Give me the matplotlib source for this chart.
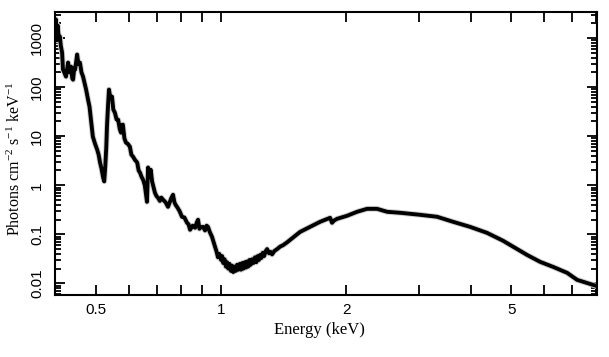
import matplotlib
matplotlib.use("Agg")
import matplotlib.pyplot as plt
from matplotlib.ticker import FixedLocator, NullFormatter

# spectrum (keV, photons cm^-2 s^-1 keV^-1)
energy = [0.398, 0.400, 0.402, 0.404, 0.406, 0.409, 0.411, 0.414, 0.416, 0.419,
          0.423, 0.426, 0.428, 0.431, 0.435, 0.438, 0.440, 0.443, 0.445, 0.448,
          0.450, 0.453, 0.457, 0.461, 0.465, 0.469, 0.473, 0.478, 0.482, 0.486,
          0.491, 0.497, 0.503, 0.507, 0.511, 0.515, 0.520, 0.523, 0.526, 0.529,
          0.531, 0.534, 0.537, 0.541, 0.546, 0.550, 0.555, 0.560, 0.565, 0.570,
          0.574, 0.577, 0.580, 0.585, 0.590, 0.596, 0.603, 0.608, 0.614, 0.620,
          0.628, 0.633, 0.638, 0.643, 0.649, 0.655, 0.660, 0.663, 0.667, 0.672,
          0.677, 0.682, 0.688, 0.693, 0.699, 0.705, 0.712, 0.718, 0.725, 0.735,
          0.745, 0.752, 0.759, 0.766, 0.772, 0.777, 0.783, 0.794, 0.805, 0.816,
          0.828, 0.835, 0.842, 0.854, 0.866, 0.873, 0.880, 0.887, 0.894, 0.905,
          0.915, 0.923, 0.930, 0.940, 0.951, 0.959, 0.967, 0.975, 0.983, 0.990,
          1.000, 1.006, 1.012, 1.020, 1.027, 1.034, 1.041, 1.048, 1.056, 1.063,
          1.070, 1.078, 1.085, 1.093, 1.101, 1.109, 1.117, 1.124, 1.132, 1.140,
          1.148, 1.155, 1.163, 1.171, 1.179, 1.188, 1.197, 1.207, 1.216, 1.225,
          1.234, 1.242, 1.251, 1.260, 1.270, 1.280, 1.291, 1.305, 1.316, 1.327,
          1.345, 1.365, 1.387, 1.410, 1.440, 1.467, 1.550, 1.639, 1.732, 1.831,
          1.851, 1.870, 1.903, 2.012, 2.127, 2.248, 2.376, 2.512, 2.700, 2.854,
          3.017, 3.315, 3.623, 3.981, 4.375, 4.780, 5.053, 5.462, 5.871, 6.310,
          6.821, 7.210, 7.620, 7.878, 8.05]
flux = [1500, 2400, 900, 1800, 1100, 1070, 700, 506, 230, 200,
        164, 240, 316, 200, 262, 150, 142, 250, 228, 350,
        461, 300, 316, 200, 164, 120, 89, 56, 40, 21.7,
        9.8, 7.0, 5.3, 4.2, 2.9, 2.2, 1.42, 1.2, 2.4, 6.0,
        15.6, 40, 89, 60, 64, 35, 30, 22, 21.7, 14,
        11.8, 17, 17.2, 9.0, 7.4, 7.0, 6.1, 4.2, 3.8, 3.3,
        2.9, 2.0, 1.8, 1.5, 1.29, 1.0, 0.6, 0.46, 2.3, 1.5,
        2.07, 1.2, 0.9, 0.70, 0.60, 0.556, 0.48, 0.56, 0.506, 0.45,
        0.364, 0.45, 0.55, 0.64, 0.45, 0.40, 0.364, 0.30, 0.228, 0.22,
        0.172, 0.16, 0.124, 0.15, 0.136, 0.17, 0.198, 0.13, 0.14, 0.142,
        0.12, 0.15, 0.142, 0.11, 0.089, 0.07, 0.056, 0.045, 0.034, 0.040,
        0.030, 0.036, 0.026, 0.031, 0.022, 0.027, 0.020, 0.025, 0.018, 0.023,
        0.017, 0.022, 0.018, 0.024, 0.019, 0.025, 0.019, 0.026, 0.020, 0.027,
        0.021, 0.028, 0.022, 0.030, 0.024, 0.031, 0.026, 0.034, 0.027, 0.036,
        0.030, 0.038, 0.033, 0.042, 0.036, 0.045, 0.050, 0.041, 0.044, 0.039,
        0.046, 0.050, 0.056, 0.060, 0.068, 0.077, 0.112, 0.142, 0.18, 0.217,
        0.172, 0.19, 0.207, 0.239, 0.288, 0.331, 0.331, 0.288, 0.275, 0.262,
        0.25, 0.228, 0.18, 0.142, 0.107, 0.074, 0.056, 0.038, 0.0275, 0.0217,
        0.0164, 0.0118, 0.0102, 0.0093, 0.0088]

x_major = [0.5, 1, 2, 5]
x_labels = ["0.5", "1", "2", "5"]
x_minor = [0.6, 0.7, 0.8, 0.9, 3, 4, 6, 7, 8]
y_major = [0.01, 0.1, 1, 10, 100, 1000]
y_labels = ["0.01", "0.1", "1", "10", "100", "1000"]

plt.rcParams['mathtext.fontset'] = 'custom'
plt.rcParams['mathtext.rm'] = 'Liberation Serif'
plt.rcParams['mathtext.it'] = 'Liberation Serif:italic'

fig = plt.figure(figsize=(6.09, 3.57), dpi=100)
ax = fig.add_axes([55/609, 62/357, 542/609, 283/357])

ax.plot(energy, flux, color='0.82', lw=4.2, solid_joinstyle='round')
ax.plot(energy, flux, color='black', lw=2.8, solid_joinstyle='round')

ax.set_xscale('log')
ax.set_yscale('log')
ax.set_xlim(0.398, 8.05)
ax.set_ylim(0.0058, 3400)

ax.xaxis.set_major_locator(FixedLocator(x_major))
ax.xaxis.set_minor_locator(FixedLocator(x_minor))
ax.set_xticklabels(x_labels, family='Liberation Sans', fontsize=11)
ax.xaxis.set_minor_formatter(NullFormatter())
ax.set_yticks(y_major)
ax.set_yticklabels(y_labels, family='Liberation Sans', fontsize=11,
                   rotation=90, va='center')
ax.yaxis.set_minor_formatter(NullFormatter())

ax.tick_params(which='both', direction='in', top=True, right=True, width=1.3)
ax.tick_params(which='major', length=7)
ax.tick_params(axis='x', which='major', pad=6)
ax.tick_params(axis='y', which='major', pad=8)
ax.tick_params(which='minor', length=4)
ax.tick_params(axis='x', which='minor', length=7)
for s in ax.spines.values():
    s.set_linewidth(1.5)

ax.set_xlabel('Energy (keV)', family='Liberation Serif', fontsize=12, labelpad=5)
ax.xaxis.set_label_coords(0.487, -0.095, transform=ax.transAxes)
ax.xaxis.label.set_va('top')
ax.set_ylabel('Photons cm$^{-2}$ s$^{-1}$ keV$^{-1}$', family='Liberation Serif',
              fontsize=11.5)
ax.yaxis.set_label_coords(-0.074, 0.48)
ax.yaxis.label.set_va('center')

fig.savefig('out.png', dpi=100)
